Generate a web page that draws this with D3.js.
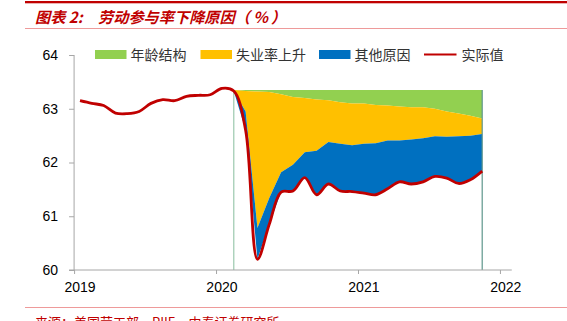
<!DOCTYPE html>
<html><head><meta charset="utf-8">
<script src="https://cdn.jsdelivr.net/npm/d3@7"></script>
<style>
html,body{margin:0;padding:0;background:#fff;}
svg{display:block;font-family:"Liberation Sans","Noto Sans CJK SC",Arial,sans-serif;}
</style></head>
<body>
<svg id="chart" width="567" height="321"></svg>
<script>
// ---- data ----
const years = ["2019", "2020", "2021", "2022"];
const seriesNames = ["年龄结构", "失业率上升", "其他原因", "实际值"];
// monthly, Jan 2019 .. Nov 2021
const months = d3.range(35).map(i => `${2019 + Math.floor(i / 12)}-${String(i % 12 + 1).padStart(2, "0")}`);
const actual = [63.15, 63.10, 63.06, 62.92, 62.91, 62.95, 63.10, 63.17, 63.15, 63.23, 63.25, 63.26,
                63.38, 63.33, 62.60, 60.20, 60.85, 61.45, 61.47, 61.72, 61.40, 61.60, 61.47, 61.46,
                61.43, 61.40, 61.51, 61.64, 61.60, 61.64, 61.74, 61.71, 61.61, 61.68, 61.84];
// decomposition, Feb 2020 .. Nov 2021 (starting at month index 13)
const decompStart = 13;
const otherReasons = [0.00, 0.35, 0.58, 0.49, 0.37, 0.49, 0.47, 0.82, 0.78, 0.88, 0.86,
                      0.92, 0.96, 0.90, 0.77, 0.83, 0.81, 0.75, 0.77, 0.88, 0.82, 0.69];
const unemployment = [0.02, 0.38, 2.54, 1.97, 1.45, 1.26, 1.01, 0.95, 0.78, 0.77, 0.78,
                      0.75, 0.71, 0.65, 0.63, 0.60, 0.58, 0.51, 0.47, 0.42, 0.37, 0.29];
const ageStructure = [0.00, 0.02, 0.03, 0.04, 0.08, 0.13, 0.15, 0.18, 0.19, 0.23, 0.25,
                      0.25, 0.28, 0.29, 0.31, 0.32, 0.32, 0.35, 0.40, 0.44, 0.48, 0.53];
const yTicks = [60, 61, 62, 63, 64];

// ---- styles ----
const colors = {age: "#92D050", unemp: "#FFC000", other: "#0070C0", actual: "#C00000"};

const svg = d3.select("#chart");

const x = d3.scaleLinear().domain([0, 34]).range([80, 482.2]);
const y = d3.scaleLinear().domain([60, 64]).range([270, 55]);

// header
svg.append("rect").attr("x", 25).attr("y", 1).attr("width", 542).attr("height", 2.3).attr("fill", "#C00000");
svg.append("line").attr("x1", 25).attr("x2", 567).attr("y1", 28.5).attr("y2", 28.5)
  .attr("stroke", "#EE9A9A").attr("stroke-width", 1);
const titleStyle = t => t.attr("font-family", "'Noto Sans CJK SC', sans-serif")
  .attr("font-size", 15.2).attr("font-weight", "bold").attr("font-style", "italic")
  .attr("fill", "#C00000");
svg.append("text").attr("x", 35).attr("y", 23).call(titleStyle).text("图表 2:");
const t2 = svg.append("text").attr("x", 98).attr("y", 23).call(titleStyle);
t2.append("tspan").text("劳动参与率下降原因");
t2.append("tspan").attr("letter-spacing", 3).text("（％）");

// footer
svg.append("line").attr("x1", 25).attr("x2", 567).attr("y1", 307.5).attr("y2", 307.5)
  .attr("stroke", "#EE9A9A").attr("stroke-width", 1);
svg.append("text").attr("x", 35).attr("y", 327)
  .attr("font-family", "'Noto Sans CJK SC', sans-serif")
  .attr("font-size", 13).attr("fill", "#C00000")
  .text("来源：美国劳工部，PIIE，中泰证券研究所");

// stacked decomposition data
const decomp = otherReasons.map((o, i) => {
  const m = decompStart + i;
  const base = actual[m];
  const b1 = base + o;
  const b2 = b1 + unemployment[i];
  const b3 = b2 + ageStructure[i];
  return {m, base, b1, b2, b3};
});

const area = (lo, hi) => d3.area().x(d => x(d.m)).y0(d => y(d[lo])).y1(d => y(d[hi]));
svg.append("path").datum(decomp).attr("d", area("b2", "b3")).attr("fill", colors.age);
svg.append("path").datum(decomp).attr("d", area("b1", "b2")).attr("fill", colors.unemp);
svg.append("path").datum(decomp).attr("d", area("base", "b1")).attr("fill", colors.other);

// vertical drop lines at ends of the decomposition
const first = decomp[0], last = decomp[decomp.length - 1];
svg.append("line").attr("x1", x(first.m)).attr("x2", x(first.m)).attr("y1", y(first.b3)).attr("y2", y(60))
  .attr("stroke", "#9CC8AE").attr("stroke-width", 1.2);
svg.append("line").attr("x1", x(last.m)).attr("x2", x(last.m)).attr("y1", y(last.b3)).attr("y2", y(60))
  .attr("stroke", "#5E968C").attr("stroke-width", 1.2);

// axes
const axisColor = "#A6A6A6";
const yAxis = svg.append("g").attr("transform", `translate(${x(-0.5)},0)`)
  .call(d3.axisLeft(y).tickValues(yTicks).tickSize(5).tickFormat(d3.format("d")));
const xAxis = svg.append("g").attr("transform", `translate(0,${y(60)})`)
  .call(d3.axisBottom(x).tickValues([-0.5, 11.5, 23.5, 35.5]).tickSize(4).tickFormat(""));
[yAxis, xAxis].forEach(g => {
  g.select(".domain").remove();
  g.selectAll(".tick line").attr("stroke", axisColor);
});
yAxis.selectAll(".tick text").attr("font-size", 14).attr("fill", "#000").attr("x", -16)
  .attr("font-family", "'Liberation Sans', Arial, sans-serif");
svg.append("line").attr("x1", x(-0.5)).attr("x2", x(-0.5)).attr("y1", y(64)).attr("y2", y(60))
  .attr("stroke", axisColor);
svg.append("line").attr("x1", x(-0.5) - 5).attr("x2", x(36.5)).attr("y1", y(60)).attr("y2", y(60))
  .attr("stroke", axisColor);
// year labels centred on January of each year
svg.append("g").selectAll("text").data(years).join("text")
  .attr("x", (d, i) => x(i * 12)).attr("y", 292)
  .attr("text-anchor", "middle").attr("font-size", 14).attr("fill", "#000")
  .attr("font-family", "'Liberation Sans', Arial, sans-serif")
  .text(d => d);

// actual line
const line = d3.line().x((d, i) => x(i)).y(d => y(d)).curve(d3.curveCatmullRom.alpha(0.5));
svg.append("path").datum(actual).attr("d", line).attr("fill", "none")
  .attr("stroke", colors.actual).attr("stroke-width", 2.8).attr("stroke-linejoin", "round");

// legend
const legendItems = [
  {name: seriesNames[0], color: colors.age, type: "rect", x: 95},
  {name: seriesNames[1], color: colors.unemp, type: "rect", x: 200.5},
  {name: seriesNames[2], color: colors.other, type: "rect", x: 319},
  {name: seriesNames[3], color: colors.actual, type: "line", x: 424}
];
const lg = svg.append("g").selectAll("g").data(legendItems).join("g")
  .attr("transform", d => `translate(${d.x},54.5)`);
lg.filter(d => d.type === "rect").append("rect")
  .attr("x", 0).attr("y", -4.5).attr("width", 31.5).attr("height", 9).attr("fill", d => d.color);
lg.filter(d => d.type === "line").append("line")
  .attr("x1", 0).attr("x2", 32.5).attr("y1", 0).attr("y2", 0)
  .attr("stroke", d => d.color).attr("stroke-width", 2.2);
lg.append("text").attr("x", d => d.type === "line" ? 37.5 : 35.5).attr("y", 5)
  .attr("font-family", "'Noto Sans CJK SC', sans-serif")
  .attr("font-size", 14).attr("fill", "#333").text(d => d.name);
</script>
</body></html>
